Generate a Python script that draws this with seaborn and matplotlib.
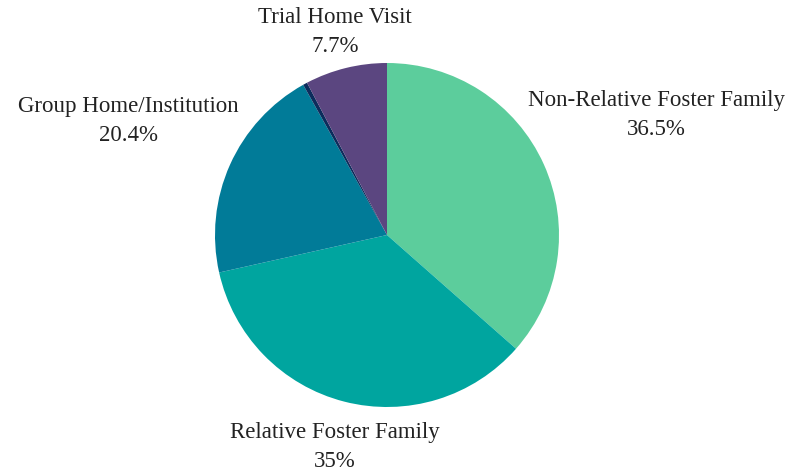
import matplotlib
matplotlib.use("Agg")
import matplotlib.pyplot as plt
import seaborn as sns

categories = ["Non-Relative Foster Family", "Relative Foster Family",
              "Group Home/Institution", "Other", "Trial Home Visit"]
values = [36.5, 35.0, 20.4, 0.4, 7.7]
value_labels = ["36.5%", "35%", "20.4%", "", "7.7%"]
colors = ["#5ccd9c", "#00a59f", "#017b98", "#0c2c5c", "#5b4680"]

sns.set_style("white")
plt.rcParams['font.family'] = ['Liberation Serif', 'DejaVu Serif']

W, H = 791, 472
fig = plt.figure(figsize=(W / 100, H / 100), dpi=100)
ax = fig.add_axes([0, 0, 1, 1])
cx, cy, r = 387, 235, 172
ax.pie(values, colors=sns.color_palette(colors), startangle=90, counterclock=False,
       radius=1, center=(0, 0), wedgeprops=dict(linewidth=0))
ax.set_xlim(-cx / r, (W - cx) / r)
ax.set_ylim(-(H - cy) / r, cy / r)
ax.set_aspect("equal")
ax.axis("off")

label_pos = {
    "Non-Relative Foster Family": (656, 115),
    "Relative Foster Family": (335, 447),
    "Group Home/Institution": (128, 121),
    "Trial Home Visit": (335, 32),
}
for cat, vl in zip(categories, value_labels):
    if cat not in label_pos:
        continue
    px, py = label_pos[cat]
    ax.text((px - cx) / r, (cy - py) / r, f"{cat}\n{vl}", ha="center", va="center",
            fontsize=16.5, color="#222222", linespacing=1.45)

fig.savefig("out.png", dpi=100)
